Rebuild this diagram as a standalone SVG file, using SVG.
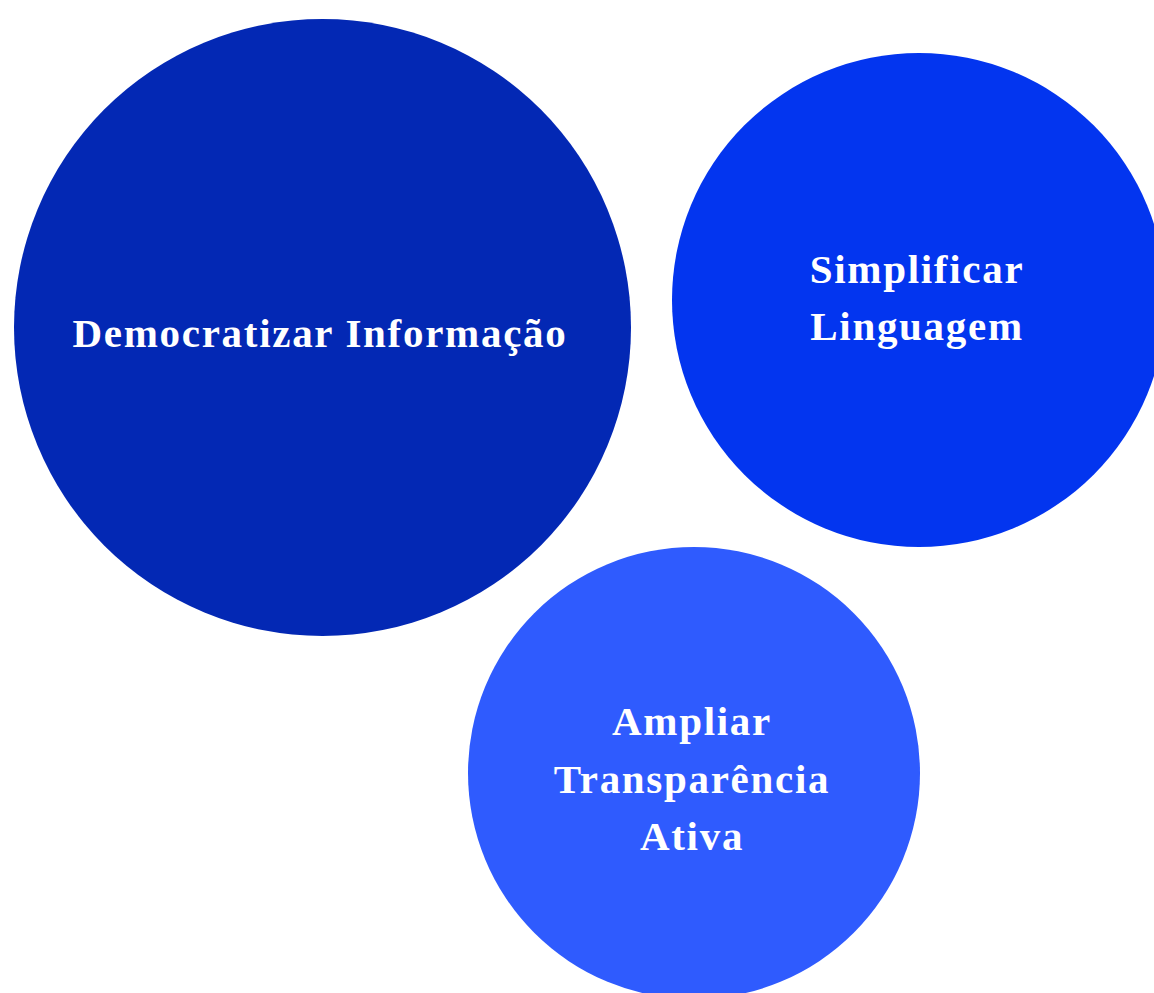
<svg xmlns="http://www.w3.org/2000/svg" width="1154" height="993" viewBox="0 0 1154 993">
<style>
.lbl{font-family:"Liberation Serif","DejaVu Serif",serif;font-weight:bold;font-size:41px;letter-spacing:1.7px;fill:#ffffff;text-anchor:middle}
</style>
<rect width="1154" height="993" fill="#ffffff"/>
<g id="connectors"></g>
<g id="node-democratizar">
<circle cx="322.5" cy="327.5" r="308.5" fill="#0328B4"/>
<text class="lbl" x="320" y="347">Democratizar Informação</text>
</g>
<g id="node-simplificar">
<circle cx="919" cy="300" r="247" fill="#0335EF"/>
<text class="lbl" x="917" y="283">Simplificar</text>
<text class="lbl" x="917" y="340">Linguagem</text>
</g>
<g id="node-ampliar">
<circle cx="694" cy="773" r="226" fill="#2F5BFE"/>
<text class="lbl" x="692" y="735">Ampliar</text>
<text class="lbl" x="692" y="793">Transparência</text>
<text class="lbl" x="692" y="850">Ativa</text>
</g>
</svg>
